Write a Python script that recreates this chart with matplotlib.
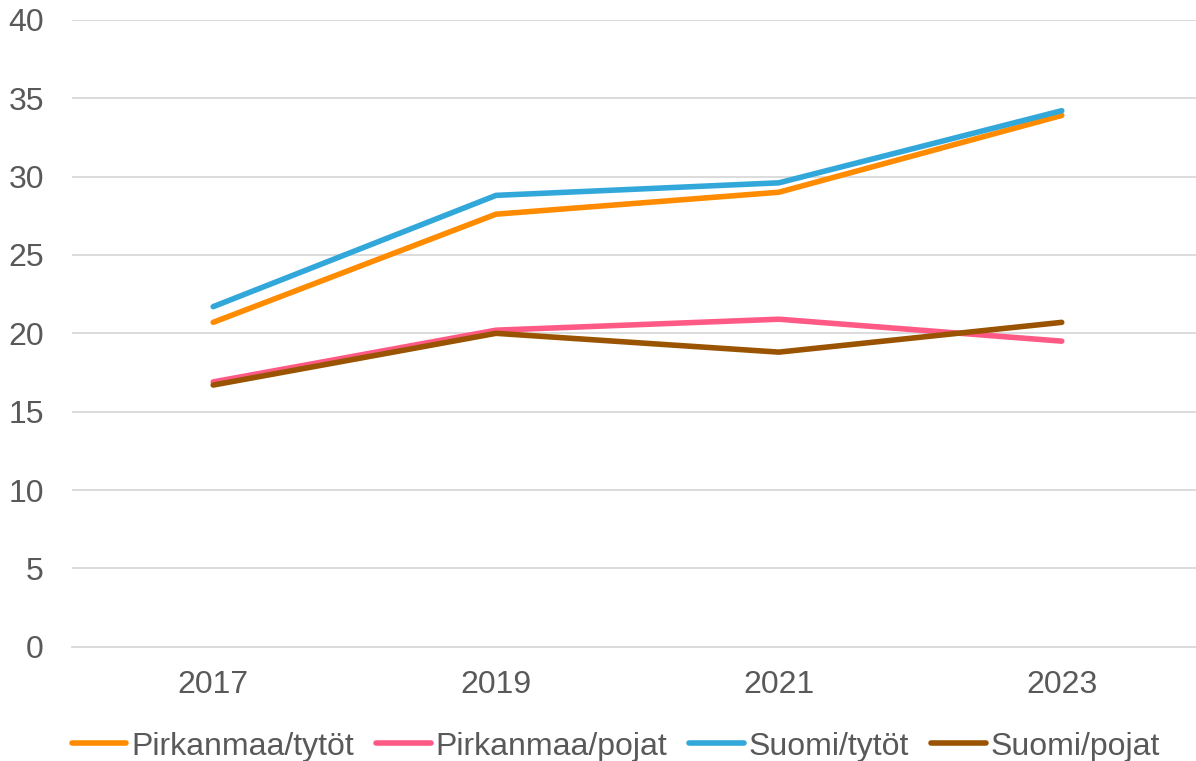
import matplotlib.pyplot as plt

plt.rcParams["font.family"] = ["Liberation Sans", "DejaVu Sans"]

years = ["2017", "2019", "2021", "2023"]
pirkanmaa_tytot = [20.7, 27.6, 29.0, 33.9]
pirkanmaa_pojat = [16.9, 20.2, 20.9, 19.5]
suomi_tytot = [21.7, 28.8, 29.6, 34.2]
suomi_pojat = [16.7, 20.0, 18.8, 20.7]

series = [
    ("Pirkanmaa/tytöt", pirkanmaa_tytot, "#FF8C00"),
    ("Pirkanmaa/pojat", pirkanmaa_pojat, "#FF5A85"),
    ("Suomi/tytöt", suomi_tytot, "#32A7D9"),
    ("Suomi/pojat", suomi_pojat, "#9A5300"),
]

fig = plt.figure(figsize=(11.96, 7.61), dpi=100)
ax = fig.add_axes([0.060, 0.150, 0.946, 0.824])

x = range(len(years))
for label, vals, color in series:
    ax.plot(x, vals, color=color, linewidth=4.0, solid_capstyle="round", label=label)

ax.set_xlim(-0.5, 3.5)
ax.set_ylim(0, 40)
ax.set_yticks(range(0, 41, 5))
ax.set_xticks(list(x))
ax.set_xticklabels(years)
ax.yaxis.grid(True, color="#D9D9D9", linewidth=1.3)
ax.set_axisbelow(True)
for s in ["top", "right", "left"]:
    ax.spines[s].set_visible(False)
ax.spines["bottom"].set_color("#D9D9D9")
ax.spines["bottom"].set_linewidth(1.3)
ax.tick_params(length=0, labelsize=23, labelcolor="#595959")
ax.tick_params(axis="x", pad=17)
ax.tick_params(axis="y", pad=20)

fig.legend(loc="center", bbox_to_anchor=(0.515, 0.019), ncol=4, frameon=False,
           fontsize=23, labelcolor="#595959", handlelength=1.7, handletextpad=0.15,
           columnspacing=0.7, borderaxespad=0)

fig.savefig("out.png", dpi=100)
